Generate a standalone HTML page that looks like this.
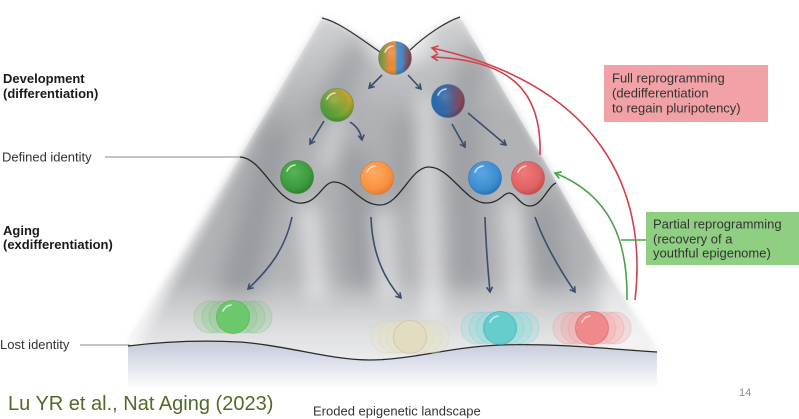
<!DOCTYPE html>
<html><head><meta charset="utf-8"><style>
html,body{margin:0;padding:0;background:#fff;}
svg{display:block;}
text{font-family:"Liberation Sans",sans-serif;}
</style></head><body>
<svg width="799" height="419" viewBox="0 0 799 419" xmlns="http://www.w3.org/2000/svg">
<defs>
  <clipPath id="mt"><path d="M322,18 C340,22 365,40 385,52 L405,52 C425,35 445,22 460,17 C500,85 530,135 557,183 C590,240 615,290 657,352 C620,350 560,343 500,345 C450,347 410,360 370,360 C330,360 290,346 240,342 C200,340 160,342 128,346 Z"/></clipPath>
  <filter id="b4" x="-20%" y="-20%" width="140%" height="140%"><feGaussianBlur stdDeviation="4"/></filter>
  <filter id="b9" x="-50%" y="-50%" width="200%" height="200%"><feGaussianBlur stdDeviation="9"/></filter>
  <filter id="b12" x="-50%" y="-50%" width="200%" height="200%"><feGaussianBlur stdDeviation="12"/></filter>
  <linearGradient id="ground" x1="0" y1="0" x2="0" y2="1">
    <stop offset="0" stop-color="#c3c8da"/><stop offset="0.5" stop-color="#e2e5ee"/><stop offset="1" stop-color="#ffffff"/>
  </linearGradient>
  <linearGradient id="mbase" x1="0" y1="0" x2="0" y2="1">
    <stop offset="0" stop-color="#d2d3d5"/><stop offset="0.3" stop-color="#afb1b4"/><stop offset="0.75" stop-color="#b3b5b8"/><stop offset="1" stop-color="#d6d7da"/>
  </linearGradient>
  <linearGradient id="botlight" x1="0" y1="0" x2="0" y2="1">
    <stop offset="0" stop-color="#fff" stop-opacity="0"/><stop offset="1" stop-color="#fff" stop-opacity="0.6"/>
  </linearGradient>
  <radialGradient id="gGreen" cx="0.4" cy="0.35" r="0.7"><stop offset="0" stop-color="#55b455"/><stop offset="0.7" stop-color="#3b9a3b"/><stop offset="1" stop-color="#2b7f2e"/></radialGradient>
  <radialGradient id="gOrange" cx="0.4" cy="0.35" r="0.7"><stop offset="0" stop-color="#ffab63"/><stop offset="0.7" stop-color="#f7923f"/><stop offset="1" stop-color="#e37a2a"/></radialGradient>
  <radialGradient id="gBlue" cx="0.4" cy="0.35" r="0.7"><stop offset="0" stop-color="#5aa6e2"/><stop offset="0.7" stop-color="#3c8dd0"/><stop offset="1" stop-color="#2571b4"/></radialGradient>
  <radialGradient id="gRed" cx="0.4" cy="0.35" r="0.7"><stop offset="0" stop-color="#f07a7a"/><stop offset="0.7" stop-color="#e06262"/><stop offset="1" stop-color="#c44a4c"/></radialGradient>
  <linearGradient id="gTop" x1="0" y1="0" x2="1" y2="0">
    <stop offset="0" stop-color="#5a9a3a"/><stop offset="0.18" stop-color="#9a9a40"/><stop offset="0.32" stop-color="#f08a38"/><stop offset="0.5" stop-color="#e8903c"/><stop offset="0.56" stop-color="#4a90d2"/><stop offset="0.72" stop-color="#4a88c8"/><stop offset="0.85" stop-color="#7a5a70"/><stop offset="1" stop-color="#8a4048"/>
  </linearGradient>
  <linearGradient id="gGO" x1="0.1" y1="0.9" x2="0.9" y2="0.1">
    <stop offset="0" stop-color="#3e9a3c"/><stop offset="0.5" stop-color="#7fa836"/><stop offset="1" stop-color="#d8a030"/>
  </linearGradient>
  <linearGradient id="gBR" x1="0" y1="0" x2="1" y2="0">
    <stop offset="0" stop-color="#1f6db6"/><stop offset="0.45" stop-color="#3a6aa8"/><stop offset="1" stop-color="#9a4048"/>
  </linearGradient>
  <radialGradient id="shade" cx="0.4" cy="0.35" r="0.7"><stop offset="0" stop-color="#fff" stop-opacity="0.15"/><stop offset="0.7" stop-color="#000" stop-opacity="0"/><stop offset="1" stop-color="#000" stop-opacity="0.2"/></radialGradient>
  <marker id="an" markerWidth="8" markerHeight="8" refX="6" refY="4" orient="auto" markerUnits="userSpaceOnUse"><path d="M1,1 L6,4 L1,7" fill="none" stroke="#3b4d6e" stroke-width="1.6"/></marker>
  <marker id="ar" markerWidth="10" markerHeight="10" refX="7" refY="5" orient="auto" markerUnits="userSpaceOnUse"><path d="M1,1.5 L7,5 L1,8.5" fill="none" stroke="#d2414a" stroke-width="1.6"/></marker>
  <marker id="ag" markerWidth="10" markerHeight="10" refX="7" refY="5" orient="auto" markerUnits="userSpaceOnUse"><path d="M1,1.5 L7,5 L1,8.5" fill="none" stroke="#4aa24a" stroke-width="1.6"/></marker>
</defs>

<!-- ground below bottom line -->
<path d="M128,346 C160,342 200,340 240,342 C290,346 330,360 370,360 C410,360 450,347 500,345 C560,343 620,350 657,352 L657,390 L128,390 Z" fill="url(#ground)"/>

<!-- mountain base -->
<g clip-path="url(#mt)">
  <path d="M322,18 C340,22 365,40 385,52 L405,52 C425,35 445,22 460,17 C500,85 530,135 557,183 C590,240 615,290 657,352 L657,370 L128,370 Z" fill="url(#mbase)" filter="url(#b4)"/>
</g>
<path d="M322,18 C340,22 365,40 385,52 L405,52 C425,35 445,22 460,17 C500,85 530,135 557,183 C590,240 615,290 657,352 L500,345 L128,346 Z" fill="url(#mbase)" filter="url(#b4)" opacity="0.6"/>

<g clip-path="url(#mt)">
  <!-- darker bands -->
  <g fill="#7c7f84" opacity="0.5" filter="url(#b12)">
    <path d="M265,130 L292,120 L255,300 L215,300 Z"/>
    <path d="M343,150 L366,150 L374,290 L348,290 Z"/>
    <path d="M453,110 L474,110 L480,290 L456,290 Z"/>
    <path d="M528,200 L554,200 L567,290 L543,290 Z"/>
    <path d="M350,40 L372,50 L330,130 L310,120 Z"/>
    <path d="M398,120 L414,120 L407,200 L390,200 Z"/>
    <path d="M470,40 L490,60 L470,110 L450,90 Z"/>
  </g>
  <!-- light ridges -->
  <g fill="#ffffff" opacity="0.6" filter="url(#b9)">
    <ellipse cx="400" cy="42" rx="32" ry="22"/>
    <path d="M418,95 L432,95 L442,320 L425,320 Z"/>
    <path d="M300,205 L316,205 L326,300 L308,300 Z"/>
    <path d="M504,200 L519,200 L526,300 L510,300 Z"/>
    <path d="M375,210 L389,210 L396,300 L380,300 Z"/>
    <path d="M335,110 L346,110 L330,170 L320,170 Z"/>
    <path d="M600,250 L665,355 L600,355 Z"/>
  </g>
  <rect x="120" y="280" width="560" height="85" fill="url(#botlight)"/>
</g>

<!-- top curve -->
<path d="M322,18 C340,22 362,40 380,52" fill="none" stroke="#333" stroke-width="1.2"/>
<path d="M410,50 C425,36 445,22 460,17" fill="none" stroke="#333" stroke-width="1.2"/>

<!-- defined identity wave -->
<line x1="105" y1="157" x2="240" y2="157" stroke="#8a8a8a" stroke-width="1"/>
<path d="M240,157 C262,158 275,200 298,203 C318,205 322,182 334,182 C350,182 360,205 380,205 C400,205 410,168 428,167 C450,166 465,203 486,203 C500,203 503,193 509,193 C516,193 520,206 530,206 C542,206 548,186 556,183" fill="none" stroke="#2a2a2a" stroke-width="1.3"/>

<!-- bottom line -->
<line x1="80" y1="345" x2="130" y2="345" stroke="#8a8a8a" stroke-width="1"/>
<path d="M128,346 C160,342 200,340 240,342 C290,346 330,360 370,360 C410,360 450,347 500,345 C560,343 620,350 657,352" fill="none" stroke="#2a2a2a" stroke-width="1.3"/>

<!-- navy arrows -->
<g fill="none" stroke="#3b4d6e" stroke-width="1.6" marker-end="url(#an)">
  <path d="M382,75 L369,88"/>
  <path d="M408,75 L421,89"/>
  <path d="M324,121 L310,144"/>
  <path d="M350,122 Q360,128 362,140"/>
  <path d="M452,124 Q458,135 465,147"/>
  <path d="M468,113 L506,145"/>
  <path d="M292,217 C285,250 268,270 248,289"/>
  <path d="M371,217 C372,255 385,280 401,298"/>
  <path d="M485,217 C486,250 488,270 490,292"/>
  <path d="M535,217 C545,245 560,270 575,292"/>
</g>

<!-- red arrows -->
<g fill="none" stroke="#d2414a" stroke-width="1.6" marker-end="url(#ar)">
  <path d="M635,300 C648,190 600,85 432,48"/>
  <path d="M540,155 C542,90 510,60 432,57"/>
</g>
<!-- green arrow -->
<path d="M627,300 C628,240 610,195 555,173" fill="none" stroke="#4aa24a" stroke-width="1.6" marker-end="url(#ag)"/>
<line x1="621" y1="240" x2="646" y2="240" stroke="#4aa24a" stroke-width="1.6"/>

<!-- bottom ghost balls -->
<g>
  <g fill="#79c979" fill-opacity="0.22" stroke="#5fb85f" stroke-opacity="0.25">
    <circle cx="210" cy="317" r="16"/><circle cx="218" cy="317" r="16"/><circle cx="225" cy="317" r="16"/>
    <circle cx="241" cy="317" r="16"/><circle cx="249" cy="317" r="16"/><circle cx="256" cy="317" r="16"/>
  </g>
  <circle cx="233" cy="317" r="16.5" fill="#6cc86c" stroke="#4cab4c" stroke-opacity="0.6"/>
  <path d="M223,311 A10,10 0 0 1 231,305" fill="none" stroke="#fff" stroke-opacity="0.7" stroke-width="1.6" stroke-linecap="round"/>

  <g fill="#e6e0c2" fill-opacity="0.3" stroke="#d6cfae" stroke-opacity="0.35">
    <circle cx="387" cy="337" r="16"/><circle cx="395" cy="337" r="16"/><circle cx="402" cy="337" r="16"/>
    <circle cx="418" cy="337" r="16"/><circle cx="426" cy="337" r="16"/><circle cx="433" cy="337" r="16"/>
  </g>
  <circle cx="410" cy="337" r="16.5" fill="#e2dcc0" stroke="#c8c09e" stroke-opacity="0.7"/>

  <g fill="#8fdcdc" fill-opacity="0.3" stroke="#6cc9c9" stroke-opacity="0.3">
    <circle cx="477" cy="328" r="16"/><circle cx="485" cy="328" r="16"/><circle cx="492" cy="328" r="16"/>
    <circle cx="508" cy="328" r="16"/><circle cx="516" cy="328" r="16"/><circle cx="523" cy="328" r="16"/>
  </g>
  <circle cx="500" cy="328" r="16.5" fill="#66cccc" stroke="#3fb2b2" stroke-opacity="0.7"/>
  <path d="M490,322 A10,10 0 0 1 498,316" fill="none" stroke="#fff" stroke-opacity="0.6" stroke-width="1.6" stroke-linecap="round"/>

  <g fill="#f4a4a4" fill-opacity="0.3" stroke="#e88a8a" stroke-opacity="0.3">
    <circle cx="569" cy="328" r="16"/><circle cx="577" cy="328" r="16"/><circle cx="584" cy="328" r="16"/>
    <circle cx="600" cy="328" r="16"/><circle cx="608" cy="328" r="16"/><circle cx="615" cy="328" r="16"/>
  </g>
  <circle cx="592" cy="328" r="16.5" fill="#f08a8a" stroke="#d86a6a" stroke-opacity="0.7"/>
  <path d="M582,322 A10,10 0 0 1 590,316" fill="none" stroke="#fff" stroke-opacity="0.6" stroke-width="1.6" stroke-linecap="round"/>
</g>

<!-- balls -->
<g stroke-width="0.8">
  <circle cx="395" cy="58" r="16.5" fill="url(#gTop)"/>
  <circle cx="395" cy="58" r="16.5" fill="url(#shade)" stroke="#6a6a6a" stroke-opacity="0.5"/>
  <circle cx="337" cy="105" r="16.5" fill="url(#gGO)"/>
  <circle cx="337" cy="105" r="16.5" fill="url(#shade)" stroke="#4a8a3a" stroke-opacity="0.6"/>
  <circle cx="448" cy="101" r="16.5" fill="url(#gBR)"/>
  <circle cx="448" cy="101" r="16.5" fill="url(#shade)" stroke="#3a5a8a" stroke-opacity="0.6"/>
  <circle cx="297" cy="177" r="16.5" fill="url(#gGreen)" stroke="#2a7a2c" stroke-opacity="0.6"/>
  <circle cx="377" cy="178" r="16.5" fill="url(#gOrange)" stroke="#d9752a" stroke-opacity="0.6"/>
  <circle cx="485" cy="178" r="16.5" fill="url(#gBlue)" stroke="#226cb0" stroke-opacity="0.6"/>
  <circle cx="528" cy="178" r="16.5" fill="url(#gRed)" stroke="#b84444" stroke-opacity="0.6"/>
</g>
<g fill="none" stroke="#fff" stroke-opacity="0.7" stroke-width="1.6" stroke-linecap="round">
  <path d="M385,52 A10,10 0 0 1 393,46"/>
  <path d="M327,99 A10,10 0 0 1 335,93"/>
  <path d="M438,95 A10,10 0 0 1 446,89"/>
  <path d="M287,171 A10,10 0 0 1 295,165"/>
  <path d="M367,172 A10,10 0 0 1 375,166"/>
  <path d="M475,172 A10,10 0 0 1 483,166"/>
  <path d="M518,172 A10,10 0 0 1 526,166"/>
</g>

<!-- boxes -->
<rect x="604" y="65" width="164" height="57" fill="#f2a2a6"/>
<text x="612" y="82.5" font-size="13" fill="#333">Full reprogramming</text>
<text x="612" y="97.5" font-size="13" fill="#333">(dedifferentiation</text>
<text x="612" y="112.5" font-size="13" fill="#333">to regain pluripotency)</text>

<rect x="646" y="212" width="153" height="53" fill="#8fcf82"/>
<text x="653" y="228.5" font-size="13" fill="#333">Partial reprogramming</text>
<text x="653" y="243.5" font-size="13" fill="#333">(recovery of a</text>
<text x="653" y="257.5" font-size="13" fill="#333">youthful epigenome)</text>

<!-- left labels -->
<text x="3" y="83" font-size="13" font-weight="bold" fill="#1a1a1a">Development</text>
<text x="3" y="98" font-size="13" font-weight="bold" fill="#1a1a1a">(differentiation)</text>
<text x="2" y="161.5" font-size="13" fill="#333">Defined identity</text>
<text x="3" y="235" font-size="13" font-weight="bold" fill="#1a1a1a">Aging</text>
<text x="3" y="249" font-size="13" font-weight="bold" fill="#1a1a1a">(exdifferentiation)</text>
<text x="0" y="349" font-size="13" fill="#333">Lost identity</text>

<text x="8" y="410" font-size="20" fill="#506b25">Lu YR et al., Nat Aging (2023)</text>
<text x="313" y="415.5" font-size="13" fill="#333">Eroded epigenetic landscape</text>
<text x="739" y="396" font-size="11" fill="#8a8a8a">14</text>
</svg>
</body></html>
